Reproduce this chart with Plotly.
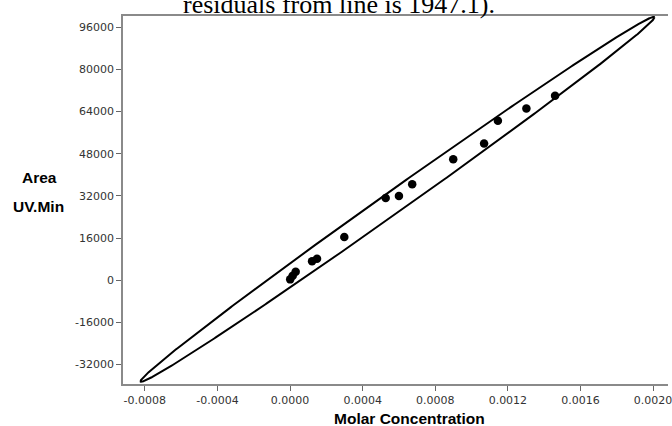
import numpy as np
import plotly.graph_objects as go

# Data
conc = [0.000001, 0.0000148, 0.0000312, 0.0001214, 0.0001487, 0.000299,
        0.000527, 0.000600, 0.000673, 0.000899, 0.001069, 0.001145,
        0.001302, 0.001460]
area = [300, 1635, 3155, 7147, 8097, 16385, 31211, 31971, 36419,
        45923, 51891, 60483, 65197, 69987]
x_ticks = [-0.0008, -0.0004, 0.0, 0.0004, 0.0008, 0.0012, 0.0016, 0.0020]
x_tick_text = ["-0.0008", "-0.0004", "0.0000", "0.0004", "0.0008", "0.0012", "0.0016", "0.0020"]
y_ticks = [-32000, -16000, 0, 16000, 32000, 48000, 64000, 80000, 96000]
y_tick_text = ["-32000", "-16000", "0", "16000", "32000", "48000", "64000", "80000", "96000"]
title_text = "residuals from line is 1947.1)."
ellipse_scale = 2.77

# Data ellipse from the covariance of the points
X = np.array(conc)
Y = np.array(area)
mean = np.array([X.mean(), Y.mean()])
cov = np.cov(np.vstack([X, Y]))
L = np.linalg.cholesky(cov)
t = np.linspace(0, 2 * np.pi, 721)
circle = np.vstack([np.cos(t), np.sin(t)])
ell = mean[:, None] + ellipse_scale * (L @ circle)

W, H = 672, 426
ml, mr, mt, mb = 123, 0, 16, 42
pw, ph = W - ml - mr, H - mt - mb

fig = go.Figure()
fig.add_trace(go.Scatter(x=ell[0], y=ell[1], mode="lines",
                         line=dict(color="black", width=2), hoverinfo="skip",
                         showlegend=False))
fig.add_trace(go.Scatter(x=conc, y=area, mode="markers",
                         marker=dict(color="black", size=8.5),
                         showlegend=False))

def px_x(p):
    return (p - ml) / pw

def px_y(p):
    return (H - mb - p) / ph

axis_font = dict(family="DejaVu Sans", size=11, color="#333333")
fig.update_xaxes(range=[-0.000920, 0.002082], tickvals=x_ticks, ticktext=x_tick_text,
                 showgrid=False, zeroline=False, showline=True, linecolor="#8a8a8a",
                 linewidth=1.5, mirror=True, ticks="outside", ticklen=5,
                 tickcolor="#666666", tickwidth=1, tickfont=axis_font,
                 ticklabeloverflow="allow")
fig.update_yaxes(range=[-39422, 100285], tickvals=y_ticks, ticktext=y_tick_text,
                 showgrid=False, zeroline=False, showline=True, linecolor="#8a8a8a",
                 linewidth=1.5, ticks="outside", ticklen=5,
                 tickcolor="#666666", tickwidth=1, tickfont=axis_font)

title_font = dict(family="Liberation Sans", size=15.5, color="black")
annos = [
    dict(text=title_text, x=px_x(341), y=px_y(4), xref="paper", yref="paper",
         xanchor="center", yanchor="middle", showarrow=False,
         font=dict(family="Liberation Serif", size=26, color="black")),
    dict(text="<b>Area</b>", x=px_x(38.5), y=px_y(177), xref="paper", yref="paper",
         xanchor="center", yanchor="middle", showarrow=False, font=title_font),
    dict(text="<b>UV.Min</b>", x=px_x(37.5), y=px_y(206.5), xref="paper", yref="paper",
         xanchor="center", yanchor="middle", showarrow=False, font=title_font),
    dict(text="<b>Molar Concentration</b>", x=px_x(412), y=px_y(418.5), xref="paper",
         yref="paper", xanchor="center", yanchor="middle", showarrow=False, font=title_font),
]
fig.update_layout(width=W, height=H, margin=dict(l=ml, r=mr, t=mt, b=mb),
                  paper_bgcolor="white", plot_bgcolor="white", annotations=annos,
                  showlegend=False)
fig.write_html("out.html")
